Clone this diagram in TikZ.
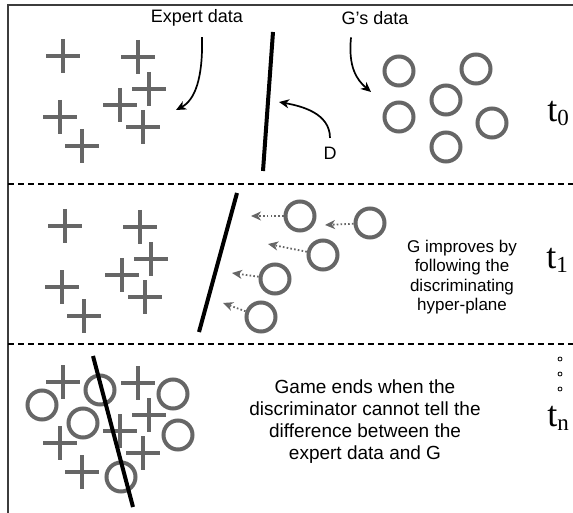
\documentclass[tikz,border=0pt]{standalone}
\usepackage{fontspec}
\setmainfont{Liberation Sans}
\newfontfamily\stepfont{Liberation Serif}
\usetikzlibrary{arrows.meta}
\definecolor{markgray}{RGB}{102,102,102}
\definecolor{framegray}{RGB}{60,60,60}
\newcommand{\tstep}[1]{{\stepfont\fontsize{36}{36}\selectfont t\raisebox{-4pt}{\fontsize{23}{23}\selectfont #1}}}

\begin{document}
\begin{tikzpicture}[x=1pt,y=-1pt,line width=1.7pt,>={Stealth[length=10pt,width=9pt,inset=3pt]},
  plusmark/.style={draw=markgray,line width=3.8pt},
  ring/.style={circle,draw=markgray,line width=4pt,minimum size=29pt,inner sep=0pt},
  plane/.style={line width=4pt},
  follow/.style={->,draw=markgray,line width=1.8pt,dash pattern=on 1.6pt off 2.2pt},
  lbl/.style={font=\fontsize{18}{18}\selectfont,inner sep=0pt}]
  \useasboundingbox (0,0) rectangle (573,513);
  % frame
  \draw[framegray,line width=1.3pt] (573,5) -- (8,5) -- (8,513);
  \foreach \y in {184,344} \draw[line width=1.3pt,dash pattern=on 6pt off 4pt] (8,\y) -- (573,\y);
  % expert data
  \foreach \dx/\dy in {0/0,2/170,0/326}
    \foreach \x/\y in {63/56,138/57,149/89,120/105,60/117,143/127,82/146}
      \draw[plusmark] (\x+\dx,\y+\dy) +(-17,0) -- +(17,0) +(0,-17) -- +(0,17);
  % t0
  \foreach \x/\y [count=\i] in {399/71,476/69,446/100,399/117,492/123,446/147}
    \node[ring] (a\i) at (\x,\y) {};
  \coordinate (d0top) at (273,32);
  \coordinate (d0bot) at (263,171);
  \draw[plane] (d0top) -- (d0bot);
  \node[lbl] (expert) at (197,18) {Expert data};
  \node[lbl] (gsdata) at (375,18) {G's data};
  \node[lbl] (dlbl) at (330,153) {D};
  \coordinate (expertend) at (176,110);
  \coordinate (gsend) at (371,92);
  \coordinate (dend) at (279,102);
  \draw[->] ([xshift=5pt,yshift=-10pt]expert.south) .. controls +(1,41) and +(19,-10) .. (expertend);
  \draw[->] ([xshift=-24pt,yshift=-12pt]gsdata.south) .. controls +(-3,30) and +(-14,-12) .. (gsend);
  \draw[->] ([yshift=8pt]dlbl.north) .. controls +(0,-25) and +(22,4) .. (dend);
  \node (t0) at (558,113) {\tstep{0}};
  % t1
  \foreach \x/\y [count=\i] in {300/216,370/223,323/255,275/279,261/317}
    \node[ring] (g\i) at (\x,\y) {};
  \foreach \x/\y [count=\i] in {251/216,325/225,268/244,232/273,223/303}
    \coordinate (tip\i) at (\x,\y);
  \foreach \i in {1,...,5} \draw[follow] (g\i) -- (tip\i);
  \coordinate (d1top) at (237,193);
  \coordinate (d1bot) at (199,332);
  \draw[plane] (d1top) -- (d1bot);
  \node[align=center,inner sep=0pt,font=\fontsize{17}{19.5}\selectfont] (improve) at (462,277)
    {G improves by\\following the\\discriminating\\hyper-plane};
  \node (t1) at (557,260) {\tstep{1}};
  % tn
  \foreach \x/\y [count=\i] in {42/405,100/390,173/394,83/423,178/435,121/477}
    \node[ring] (b\i) at (\x,\y) {};
  \coordinate (dntop) at (93,356);
  \coordinate (dnbot) at (133,507);
  \draw[plane] (dntop) -- (dnbot);
  \node[align=center,inner sep=0pt,font=\fontsize{19}{22}\selectfont] (gameend) at (365,422)
    {Game ends when the\\discriminator cannot tell the\\difference between the\\expert data and G};
  \foreach \y in {359,374,389} \draw[line width=0.8pt] (560,\y) circle (2pt);
  \node (tn) at (558,418) {\tstep{n}};
\end{tikzpicture}
\end{document}
